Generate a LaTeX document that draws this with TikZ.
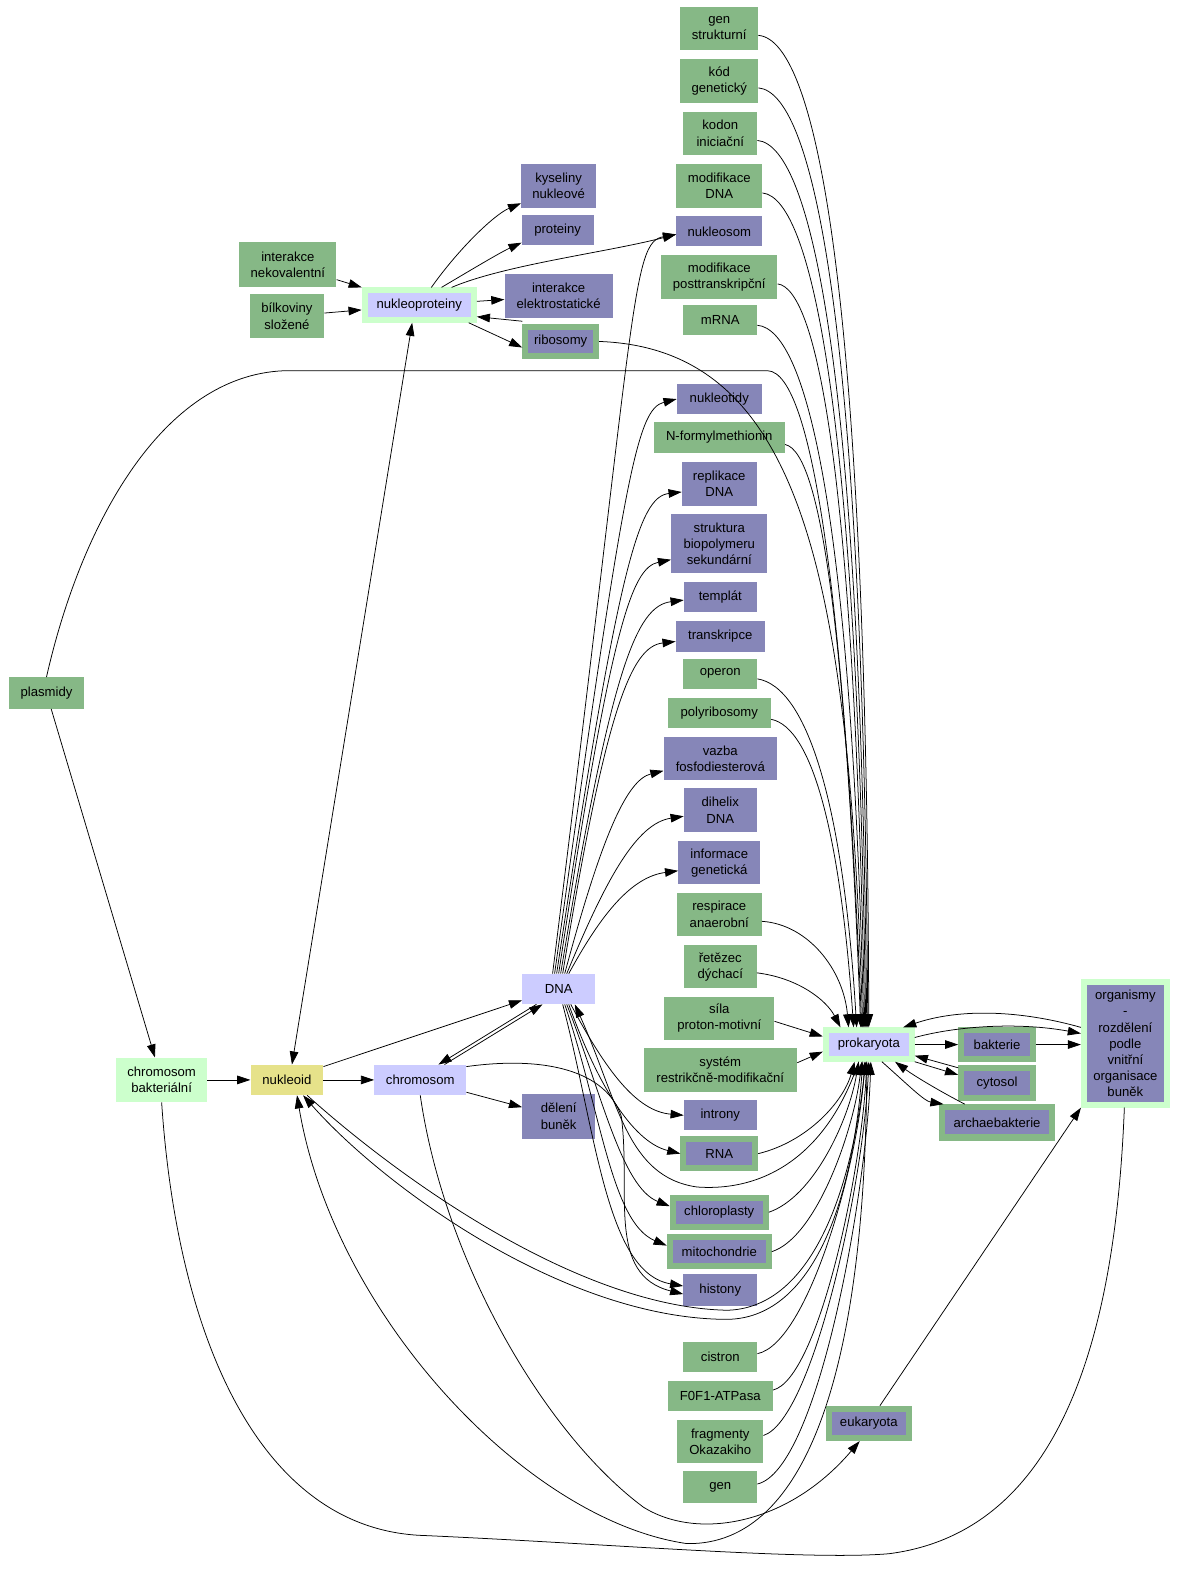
\documentclass[tikz,border=0pt]{standalone}
\usepackage{fontspec}
\setmainfont{Liberation Sans}
\usetikzlibrary{arrows.meta}
\definecolor{gr}{RGB}{134,184,134}
\definecolor{pu}{RGB}{134,134,184}
\definecolor{lg}{RGB}{204,255,204}
\definecolor{lv}{RGB}{204,204,255}
\definecolor{ye}{RGB}{230,226,138}
\begin{document}
\begin{tikzpicture}[x=1pt,y=-1pt,
  bx/.style={rectangle, inner sep=0pt, align=center, font=\fontsize{13}{16}\selectfont},
  sz/.style 2 args={minimum width=#1, minimum height=#2},
  gb/.style={bx, fill=gr},
  pb/.style={bx, fill=pu},
  pf/.style={bx, fill=pu, draw=gr, line width=6pt},
  lf/.style={bx, fill=lv, draw=lg, line width=6pt},
  pl/.style={bx, fill=pu, draw=lg, line width=6pt},
  arr/.style={line width=0.75pt, -{Triangle[length=13pt,width=8.5pt]}},
  darr/.style={line width=0.75pt, {Triangle[length=13pt,width=8.5pt]}-{Triangle[length=13pt,width=8.5pt]}},
  ln/.style={line width=0.75pt}
]
\fill[white] (0,0) rectangle (1166,1568);
\useasboundingbox (0,0) rectangle (1166,1568);

% right column
\node[gb, sz={77}{43}] (genstr) at (712,28) {gen\\strukturní};
\node[gb, sz={77}{43}] (kod) at (712,80) {kód\\genetický};
\node[gb, sz={73}{43}] (kodon) at (713,132) {kodon\\iniciační};
\node[gb, sz={85}{43}] (modDNA) at (712,184) {modifikace\\DNA};
\node[pb, sz={85}{30}] (nukleosom) at (712,229) {nukleosom};
\node[gb, sz={115}{43}] (modpost) at (712,274) {modifikace\\posttranskripční};
\node[gb, sz={73}{30}] (mRNA) at (713,317) {mRNA};
\node[pb, sz={84}{30}] (nukleotidy) at (712,395) {nukleotidy};
\node[gb, sz={130}{31}] (nform) at (712,433) {N-formylmethionin};
\node[pb, sz={74}{43}] (repl) at (712,479) {replikace\\DNA};
\node[pb, sz={95}{59}] (strukt) at (712,538) {struktura\\biopolymeru\\sekundární};
\node[pb, sz={72}{30}] (templ) at (713,591) {templát};
\node[pb, sz={88}{30}] (transk) at (713,630) {transkripce};
\node[gb, sz={73}{30}] (operon) at (713,667) {operon};
\node[gb, sz={102}{30}] (polyr) at (712,706) {polyribosomy};
\node[pb, sz={112}{43}] (vazba) at (713,751) {vazba\\fosfodiesterová};
\node[pb, sz={72}{43}] (dihelix) at (713,802) {dihelix\\DNA};
\node[pb, sz={81}{43}] (inform) at (712,854) {informace\\genetická};
\node[gb, sz={84}{43}] (resp) at (712,905) {respirace\\anaerobní};
\node[gb, sz={72}{43}] (retez) at (713,957) {řetězec\\dýchací};
\node[gb, sz={109}{43}] (sila) at (712,1008) {síla\\proton-motivní};
\node[gb, sz={152}{43}] (system) at (713,1059) {systém\\restrikčně-modifikační};
\node[pb, sz={72}{30}] (introny) at (713,1104) {introny};
\node[pf, sz={71}{29}] (RNA) at (712,1142) {RNA};
\node[pf, sz={92}{29}] (chloro) at (712,1200) {chloroplasty};
\node[pf, sz={98}{29}] (mito) at (712,1239) {mitochondrie};
\node[pb, sz={73}{31}] (histony) at (713,1277) {histony};
\node[gb, sz={73}{30}] (cistron) at (713,1343) {cistron};
\node[gb, sz={104}{30}] (f0f1) at (713,1382) {F0F1-ATPasa};
\node[gb, sz={85}{43}] (fragm) at (713,1427) {fragmenty\\Okazakiho};
\node[gb, sz={73}{31}] (gen) at (713,1472) {gen};

% upper middle
\node[pb, sz={74}{44}] (kys) at (553,184) {kyseliny\\nukleové};
\node[pb, sz={71}{30}] (prot) at (552,228) {proteiny};
\node[pb, sz={107}{43}] (intel) at (553,293) {interakce\\elektrostatické};
\node[pf, sz={70}{28}] (ribo) at (555,338) {ribosomy};
\node[gb, sz={96}{44}] (intnek) at (285,262) {interakce\\nekovalentní};
\node[gb, sz={74}{43}] (bilk) at (284,313) {bílkoviny\\složené};
\node[lf, sz={108}{29}] (nukprot) at (415,302) {nukleoproteiny};
\node[gb, sz={75}{31}] (plasmidy) at (46,686) {plasmidy};

% lower left
\node[bx, fill=lg, sz={90}{44}] (cb) at (160,1069) {chromosom\\bakteriální};
\node[bx, fill=ye, sz={72}{30}] (nukleoid) at (284,1069) {nukleoid};
\node[bx, fill=lv, sz={91}{30}] (chrom) at (416,1069) {chromosom};
\node[bx, fill=lv, sz={72}{30}] (DNA) at (553,979) {DNA};
\node[pb, sz={72}{44}] (deleni) at (553,1105) {dělení\\buněk};

% right cluster
\node[lf, sz={85}{28}] (prok) at (860,1034) {prokaryota};
\node[pf, sz={71}{28}] (bakt) at (987,1034) {bakterie};
\node[pf, sz={71}{29}] (cyto) at (987,1072) {cytosol};
\node[pf, sz={109}{30}] (arch) at (987,1111) {archaebakterie};
\node[pl, sz={82}{121}] (org) at (1114,1033) {organismy\\-\\rozdělení\\podle\\vnitřní\\organisace\\buněk};
\node[pf, sz={79}{29}] (euk) at (860,1409) {eukaryota};

% nukleoproteiny cluster
\draw[arr] (intnek) -- (nukprot);
\draw[arr] (bilk) -- (nukprot);
\draw[arr] ([xshift=12pt]nukprot.north) .. controls (455,245) and (490,212) .. ([yshift=5pt]kys.south west);
\draw[arr] ([xshift=22pt]nukprot.north) .. controls (470,265) and (495,250) .. ([yshift=3pt]prot.south west);
\draw[arr] ([xshift=32pt]nukprot.north) .. controls (500,262) and (600,250) .. ([yshift=-3pt]nukleosom.west);
\draw[arr] (nukprot) -- (intel);
\draw[arr] ([xshift=-8pt]nukprot.south east) -- ([yshift=-6pt]ribo.west);
\draw[arr] ([yshift=3pt]ribo.north west) -- ([yshift=6pt]nukprot.south east);
\draw[darr] ([xshift=5pt]nukleoid.north) -- ([xshift=-7pt]nukprot.south);

% plasmidy
\draw[arr] (plasmidy.north) .. controls (80,520) and (160,372) .. (281,367) -- (760,367) .. controls (805,369) and (836,600) .. ([xshift=-7pt]prok.north);
\draw[arr] (plasmidy) -- (cb);

% chain
\draw[arr] (cb) -- (nukleoid);
\draw[arr] (nukleoid) -- (chrom);
\draw[arr] ([yshift=-2pt]nukleoid.north east) -- ([yshift=4pt]DNA.south west);
\draw[arr] ([xshift=24pt]chrom.north) -- ([xshift=-16pt]DNA.south);
\draw[arr] ([xshift=-22pt]DNA.south) -- ([xshift=18pt]chrom.north);
\draw[arr] ([yshift=3pt]chrom.south east) -- ([yshift=9pt]deleni.west);
\draw[arr] ([yshift=-2pt]chrom.north east) .. controls (540,1045) and (600,1060) .. (615,1105) .. controls (625,1180) and (600,1262) .. ([yshift=-4pt]histony.west);

% DNA fan up
\draw[arr] ([xshift=-6pt]DNA.north) .. controls (630,300) and (625,240) .. ([yshift=-3pt]nukleosom.west);
\draw[arr] ([xshift=-4pt]DNA.north) .. controls (618,470) and (630,405) .. (nukleotidy.west);
\draw[arr] ([xshift=-2pt]DNA.north) .. controls (612,560) and (632,492) .. ([yshift=-8pt]repl.west);
\draw[arr] (DNA.north) .. controls (605,620) and (625,562) .. ([yshift=-16pt]strukt.west);
\draw[arr] ([xshift=2pt]DNA.north) .. controls (605,660) and (630,600) .. ([yshift=-3pt]templ.west);
\draw[arr] ([xshift=4pt]DNA.north) .. controls (600,700) and (625,640) .. ([yshift=-5pt]transk.west);
\draw[arr] ([xshift=6pt]DNA.north) .. controls (595,830) and (620,772) .. ([yshift=-12pt]vazba.west);
\draw[arr] ([xshift=8pt]DNA.north) .. controls (600,870) and (630,815) .. ([yshift=-6pt]dihelix.west);
\draw[arr] ([xshift=10pt]DNA.north) .. controls (595,905) and (625,868) .. ([yshift=-8pt]inform.west);

% DNA fan down
\draw[arr] ([xshift=12pt]DNA.south) .. controls (600,1060) and (630,1100) .. (introny.west);
\draw[arr] ([xshift=10pt]DNA.south) .. controls (590,1070) and (625,1130) .. (RNA.west);
\draw[arr] ([xshift=8pt]DNA.south) .. controls (595,1080) and (615,1175) .. ([yshift=6pt]chloro.west);
\draw[arr] ([xshift=6pt]DNA.south) .. controls (595,1100) and (605,1210) .. ([yshift=6pt]mito.west);
\draw[arr] ([xshift=4pt]DNA.south) .. controls (590,1120) and (600,1260) .. ([yshift=4pt]histony.west);
\draw[arr] ([xshift=-10pt]prok.south) .. controls (820,1140) and (760,1180) .. (690,1175) .. controls (620,1165) and (612,1090) .. ([xshift=16pt]DNA.south);

% top bundle into prokaryota
\draw[arr] ([yshift=-7pt]genstr.east) .. controls (810,40) and (858,300) .. (prok.north);
\draw[arr] ([yshift=-7pt]kod.east) .. controls (808,92) and (855,340) .. ([xshift=-1pt]prok.north);
\draw[arr] ([yshift=-7pt]kodon.east) .. controls (805,144) and (852,380) .. ([xshift=-2pt]prok.north);
\draw[arr] ([yshift=-7pt]modDNA.east) .. controls (805,196) and (849,420) .. ([xshift=-3pt]prok.north);
\draw[arr] ([yshift=-7pt]modpost.east) .. controls (810,286) and (846,480) .. ([xshift=-4pt]prok.north);
\draw[arr] ([yshift=-5pt]mRNA.east) .. controls (800,326) and (843,520) .. ([xshift=-5pt]prok.north);
\draw[arr] (ribo.east) .. controls (790,345) and (840,560) .. ([xshift=-6pt]prok.north);
\draw[arr] ([yshift=-7pt]nform.east) .. controls (815,448) and (838,650) .. ([xshift=-8pt]prok.north);
\draw[arr] ([yshift=-5pt]operon.east) .. controls (800,680) and (835,800) .. ([xshift=-12pt]prok.north);
\draw[arr] ([yshift=-6pt]polyr.east) .. controls (805,720) and (832,830) .. ([xshift=-15pt]prok.north);
\draw[arr] ([yshift=-7pt]resp.east) .. controls (800,915) and (835,960) .. ([xshift=-20pt]prok.north);
\draw[arr] ([yshift=-6pt]retez.east) .. controls (790,968) and (818,990) .. ([xshift=-28pt]prok.north);
\draw[arr] ([yshift=-3pt]sila.east) -- ([yshift=8pt]prok.west);
\draw[arr] ([yshift=7pt]system.east) -- ([yshift=-7pt]prok.west);

% bottom bundle into prokaryota
\draw[arr] (RNA.east) .. controls (800,1130) and (835,1090) .. ([xshift=-14pt]prok.south);
\draw[arr] (chloro.east) .. controls (805,1185) and (840,1110) .. ([xshift=-10pt]prok.south);
\draw[arr] (mito.east) .. controls (808,1225) and (845,1120) .. ([xshift=-7pt]prok.south);
\draw[arr] ([yshift=3pt]cistron.east) .. controls (800,1330) and (850,1150) .. ([xshift=-4pt]prok.south);
\draw[arr] ([yshift=6pt]f0f1.east) .. controls (810,1365) and (853,1160) .. ([xshift=-2pt]prok.south);
\draw[arr] ([yshift=6pt]fragm.east) .. controls (805,1405) and (855,1170) .. (prok.south);
\draw[arr] ([yshift=3pt]gen.east) .. controls (810,1455) and (858,1180) .. ([xshift=2pt]prok.south);

% nukleoid <-> prokaryota
\draw[arr] ([xshift=-6pt]prok.south) .. controls (845,1200) and (800,1305) .. (720,1306) .. controls (560,1306) and (380,1175) .. ([xshift=16pt]nukleoid.south);
\draw[arr] ([xshift=20pt]nukleoid.south) .. controls (390,1162) and (570,1294) .. (720,1297) .. controls (795,1295) and (840,1200) .. ([xshift=-3pt]prok.south);
\draw[arr] ([xshift=-2pt]prok.south) .. controls (858,1350) and (800,1530) .. (680,1528) .. controls (520,1505) and (330,1300) .. ([xshift=10pt]nukleoid.south);

% chromosom -> eukaryota, eukaryota -> organismy
\draw[arr] (chrom.south) .. controls (440,1250) and (540,1420) .. (637,1492) .. controls (690,1525) and (780,1510) .. ([xshift=-9pt]euk.south);
\draw[arr] ([xshift=11pt]euk.north) -- (org.south west);
\draw[ln] (cb.south) .. controls (176,1330) and (260,1515) .. (420,1520) .. controls (600,1528) and (800,1545) .. (880,1538) .. controls (1060,1515) and (1105,1300) .. ([xshift=-1pt]org.south);

% right cluster
\draw[arr] (prok) -- (bakt);
\draw[arr] (bakt.east) -- (bakt.east -| org.west);
\draw[arr] ([yshift=7pt]prok.east) .. controls (950,1015) and (1010,1012) .. ([yshift=10pt]org.west);
\draw[arr] ([yshift=16pt]org.west) .. controls (1010,1000) and (950,998) .. ([xshift=34pt]prok.north);
\draw[arr] (prok.south east) -- ([yshift=8pt]cyto.west);
\draw[arr] ([yshift=15pt]cyto.west) -- ([yshift=-11pt]prok.east);
\draw[arr] ([xshift=13pt]prok.south) .. controls (900,1075) and (915,1090) .. ([xshift=-53pt]arch.north);
\draw[arr] ([xshift=-32pt]arch.north) .. controls (930,1080) and (905,1065) .. ([xshift=26pt]prok.south);
\end{tikzpicture}
\end{document}
